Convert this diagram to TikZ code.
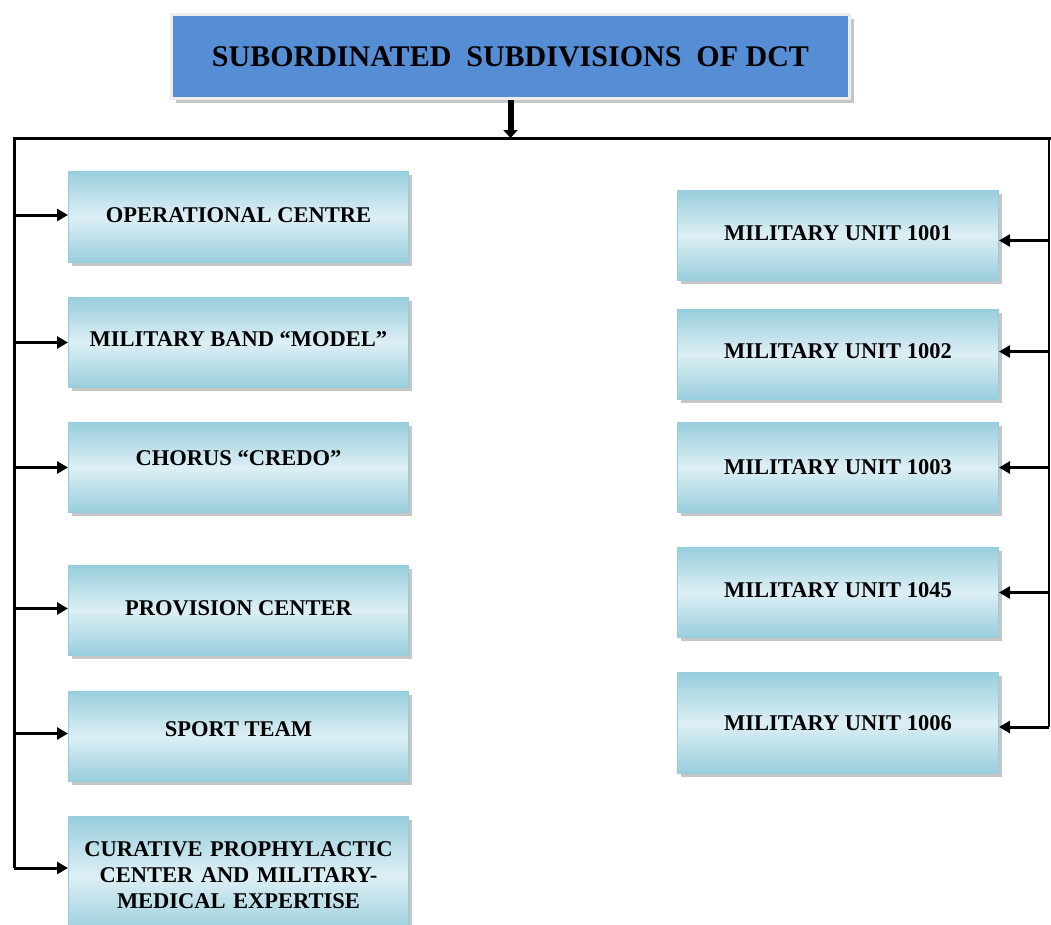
\documentclass[tikz,border=0pt]{standalone}
\usepackage{fontspec}
\setmainfont{Liberation Serif}
\usetikzlibrary{shadows,arrows.meta}
\definecolor{titleblue}{HTML}{558ED5}
\definecolor{boxedge}{HTML}{93CDDD}
\definecolor{boxdark}{HTML}{98CEDC}
\definecolor{boxlight}{HTML}{DDEFF5}
\newcommand{\upby}[2]{\raisebox{#1}[\height][\depth]{#2}}
\tikzset{
  unitbox/.style={draw=boxedge, line width=1pt, shading=axis, shading angle=-72,
    top color=boxdark, bottom color=boxdark, middle color=boxlight,
    drop shadow={shadow xshift=3pt, shadow yshift=-3pt, opacity=0.45, fill=gray},
    anchor=north west, inner sep=2pt, align=center,
    font=\fontsize{22.5}{27}\selectfont\bfseries},
  titlebox/.style={draw=gray!15, line width=3pt, fill=titleblue,
    drop shadow={shadow xshift=4pt, shadow yshift=-4pt, opacity=0.45, fill=gray},
    anchor=north west, minimum width=678pt, minimum height=84pt,
    font=\fontsize{30}{34}\selectfont\bfseries},
  trunk/.style={line width=3pt},
  thintrunk/.style={line width=1.6pt},
  arr/.style={line width=3pt, -{Triangle[length=11pt,width=12pt]}},
  bigarr/.style={line width=6pt, -{Triangle[length=8pt,width=14pt]}}
}
\begin{document}
\begin{tikzpicture}[x=1pt,y=-1pt]
\useasboundingbox (0,0) rectangle (1051,924);
\node[titlebox] (title) at (170,13) {SUBORDINATED\ \ SUBDIVISIONS\ \ OF DCT};

% left column
\node[unitbox, minimum width=340pt, minimum height=91pt] (op) at (68,171) {\upby{2pt}{OPERATIONAL CENTRE}};
\node[unitbox, minimum width=340pt, minimum height=90pt] (band) at (68,297) {\upby{3pt}{MILITARY BAND \textquotedblleft MODEL\textquotedblright}};
\node[unitbox, minimum width=340pt, minimum height=90pt] (chorus) at (68,422) {\upby{9pt}{CHORUS \textquotedblleft CREDO\textquotedblright}};
\node[unitbox, minimum width=340pt, minimum height=90pt] (prov) at (68,565) {\upby{2pt}{PROVISION CENTER}};
\node[unitbox, minimum width=340pt, minimum height=90pt] (sport) at (68,691) {\upby{7pt}{SPORT TEAM}};
\node[unitbox, minimum width=340pt, minimum height=118pt, text width=334pt] (cur) at (68,816) {CURATIVE PROPHYLACTIC\\[-1pt]CENTER AND MILITARY-\\[-1pt]MEDICAL EXPERTISE\\[22pt]};

% right column
\node[unitbox, minimum width=321pt, minimum height=90pt] (u1001) at (677,190) {\upby{2pt}{MILITARY UNIT 1001}};
\node[unitbox, minimum width=321pt, minimum height=90pt] (u1002) at (677,309) {\upby{3pt}{MILITARY UNIT 1002}};
\node[unitbox, minimum width=321pt, minimum height=90pt] (u1003) at (677,422) {MILITARY UNIT 1003};
\node[unitbox, minimum width=321pt, minimum height=90pt] (u1045) at (677,547) {\upby{2pt}{MILITARY UNIT 1045}};
\node[unitbox, minimum width=321pt, minimum height=101pt] (u1006) at (677,672) {MILITARY UNIT 1006};

% bus
\coordinate (busL) at (14,138);
\coordinate (busR) at (1049,138);
\coordinate (curIn) at (68,868);
\coordinate (leftEnd) at (14,868);
\coordinate (rightEnd) at (1049,727);
\draw[bigarr] (title.south) -- (title.south |- busL);
\draw[trunk, line join=miter] (leftEnd) -- (busL) -- (busR) -- ++(3,0);
\draw[thintrunk] (busR) -- (rightEnd);

\draw[arr] ([yshift=2pt]op.west -| busL) -- ([yshift=2pt]op.west);
\draw[arr] (band.west -| busL) -- (band.west);
\draw[arr] (chorus.west -| busL) -- (chorus.west);
\draw[arr] ([yshift=2pt]prov.west -| busL) -- ([yshift=2pt]prov.west);
\draw[arr] ([yshift=3pt]sport.west -| busL) -- ([yshift=3pt]sport.west);
\draw[arr] (leftEnd) -- (curIn);

\draw[arr] ([yshift=-5pt]u1001.east -| busR) -- ([yshift=-5pt]u1001.east);
\draw[arr] ([yshift=3pt]u1002.east -| busR) -- ([yshift=3pt]u1002.east);
\draw[arr] (u1003.east -| busR) -- (u1003.east);
\draw[arr] (u1045.east -| busR) -- (u1045.east);
\draw[arr] (rightEnd) -- (rightEnd -| u1006.east);
\end{tikzpicture}
\end{document}
